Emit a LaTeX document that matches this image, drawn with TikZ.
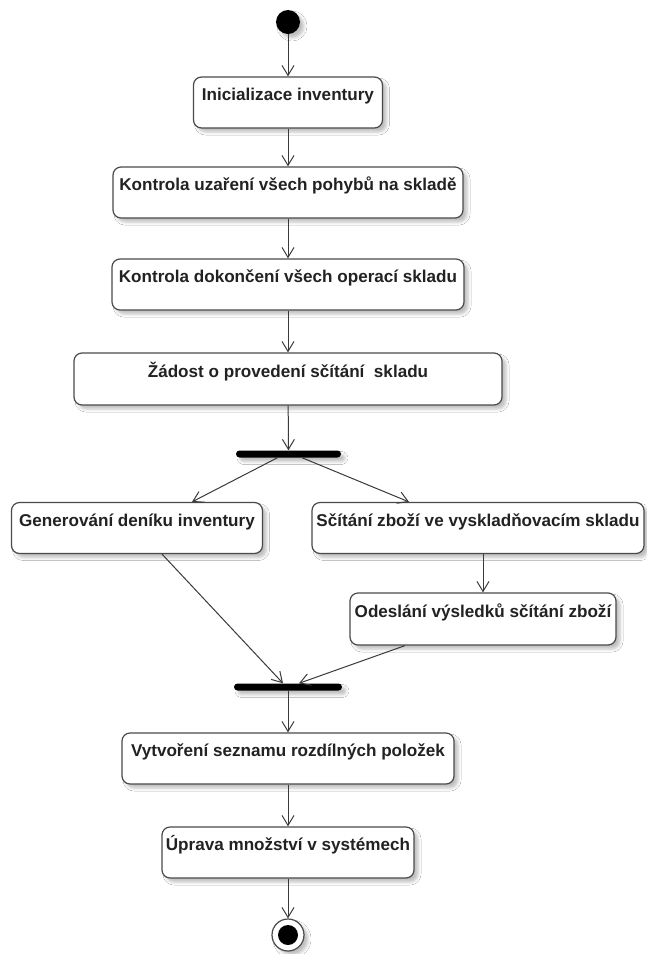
\documentclass[tikz,border=0pt]{standalone}
\usepackage{fontspec}
\setmainfont{Liberation Sans}
\usetikzlibrary{arrows.meta,shadows.blur}
\definecolor{edgeline}{HTML}{3A3A3A}
\definecolor{boxline}{HTML}{4A4A4A}
\definecolor{labeltext}{HTML}{222222}
\begin{document}
\begin{tikzpicture}[x=1pt,y=-1pt,
  soft/.style={blur shadow={shadow xshift=4pt,shadow yshift=-4pt,shadow blur radius=3pt,shadow opacity=25}},
  action/.style={draw=boxline,line width=1.2pt,fill=white,rounded corners=8pt,
    minimum height=51pt,inner xsep=0pt,inner ysep=0pt,text height=12.5pt,text depth=16pt,
    text=labeltext,font=\bfseries\fontsize{17.1}{20}\selectfont,soft},
  bar/.style={fill=black,rounded corners=3.5pt,minimum height=7pt,inner sep=0pt,soft},
  flow/.style={draw=edgeline,line width=1pt,-{Straight Barb[length=10pt,width=12pt]}},
]
\useasboundingbox (0,0) rectangle (646,954);
\fill[white] (0,0) rectangle (646,954);

% initial and final states
\node[circle,fill=black,minimum size=24pt,inner sep=0pt,soft] (start) at (288,22) {};

% main column of actions
\node[action,minimum width=189pt] (b1) at (288,102.5) {Inicializace inventury};
\node[action,minimum width=350pt] (b2) at (288,192.5) {Kontrola uzaření všech pohybů na skladě};
\node[action,minimum width=352pt] (b3) at (288,284.5) {Kontrola dokončení všech operací skladu};
\node[action,minimum width=428pt,minimum height=52pt] (b4) at (288,379) {Žádost o provedení sčítání\ \ skladu};

% fork
\node[bar,minimum width=105pt] (fork) at (288.5,454) {};

% parallel branches
\node[action,minimum width=251pt] (b5) at (137,528) {Generování deníku inventury};
\node[action,minimum width=332pt] (b6) at (478,528) {Sčítání zboží ve vyskladňovacím skladu};
\node[action,minimum width=266pt,minimum height=52pt] (b7) at (483,619) {Odeslání výsledků sčítání zboží};

% join
\node[bar,minimum width=108pt] (join) at (288,687) {};

\node[action,minimum width=332pt] (b8) at (288,758.5) {Vytvoření seznamu rozdílných položek};
\node[action,minimum width=252pt] (b9) at (288,852.5) {Úprava množství v systémech};

\node[circle,draw=boxline,line width=1.2pt,fill=white,minimum size=32pt,inner sep=0pt,soft] (end) at (288,935) {};
\node[circle,fill=black,minimum size=20pt,inner sep=0pt] (endDot) at (end) {};

% control flows
\draw[flow] (start) -- (b1);
\draw[flow] (b1) -- (b2);
\draw[flow] (b2) -- (b3);
\draw[flow] (b3) -- (b4);
\draw[flow] (b4) -- (fork);
\draw[flow] ([xshift=-11pt]fork.south) -- ([xshift=55pt]b5.north);
\draw[flow] ([xshift=13.5pt]fork.south) -- ([xshift=-69pt]b6.north);
\draw[flow] (b6.south -| b7.north) -- (b7.north);
\draw[flow] ([xshift=25pt]b5.south) -- ([xshift=-5pt]join.north);
\draw[flow] ([xshift=-78pt]b7.south) -- ([xshift=11pt]join.north);
\draw[flow] (join) -- (b8);
\draw[flow] (b8) -- (b9);
\draw[flow] (b9) -- (end);
\end{tikzpicture}
\end{document}
